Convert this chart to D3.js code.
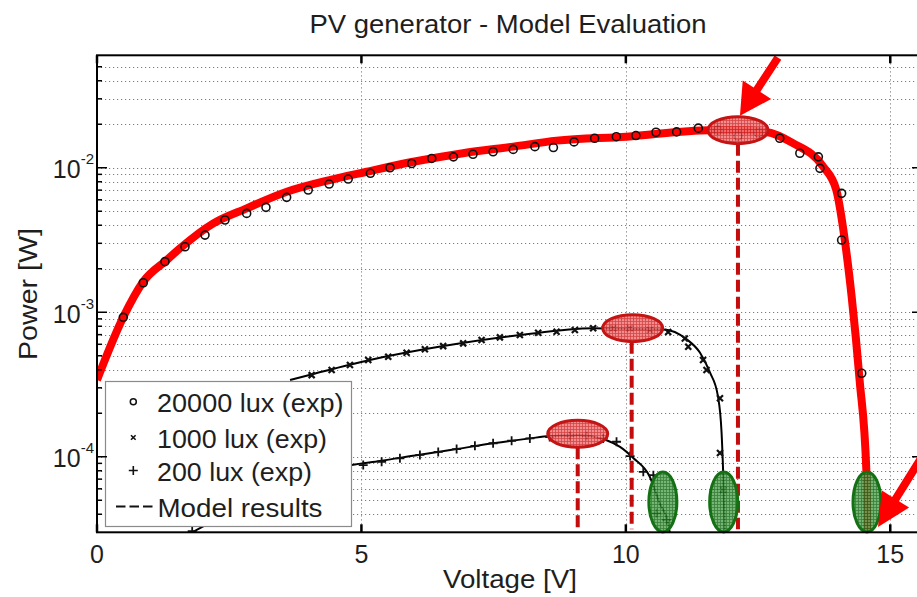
<!DOCTYPE html>
<html><head><meta charset="utf-8">
<script src="https://cdn.jsdelivr.net/npm/d3@7"></script>
<style>
body{margin:0;background:#fff}
svg{display:block}
text{font-family:"Liberation Sans",Arial,Helvetica,sans-serif;fill:#1e1e1e}
</style>
</head><body>
<svg id="c" width="917" height="597"></svg>
<script>
// ---------- DATA ----------
const xTicks = [0, 5, 10, 15];
const xGrid = [5, 10, 15];
const yMajor = [1e-4, 1e-3, 1e-2];
const yMajorExp = ["-4", "-3", "-2"];

// 20000 lux – model (red thick line)
const model20000V = [0, 0.50, 0.875, 1.32, 1.57, 2.20, 2.83, 3.59, 4.40, 5.10, 5.98, 6.92, 7.87, 8.69, 10.01, 11.59, 12.12, 12.66, 13.16, 13.73, 13.98, 14.14, 14.27, 14.42, 14.55, 14.57];
const model20000P = [3.4e-4, 9.3e-4, 1.63e-3, 2.30e-3, 2.77e-3, 4.12e-3, 5.24e-3, 6.82e-3, 8.22e-3, 9.38e-3, 1.10e-2, 1.26e-2, 1.40e-2, 1.54e-2, 1.64e-2, 1.82e-2, 1.82e-2, 1.77e-2, 1.48e-2, 1.02e-2, 7.0e-3, 3.16e-3, 1.28e-3, 3.4e-4, 7.7e-5, 2.8e-5];
// 20000 lux – experiment (circles)
const exp20000V = [0.497, 0.875, 1.285, 1.664, 2.042, 2.42, 2.83, 3.195, 3.586, 3.994, 4.39, 4.75, 5.17, 5.54, 5.95, 6.33, 6.74, 7.11, 7.49, 7.87, 8.28, 8.63, 9.02, 9.41, 9.82, 10.19, 10.57, 10.96, 11.37, 11.74, 12.12, 12.51, 12.91, 13.29, 13.64, 13.67, 14.08, 14.08, 14.46];
const exp20000P = [9.22e-4, 1.60e-3, 2.24e-3, 2.84e-3, 3.42e-3, 4.35e-3, 4.83e-3, 5.32e-3, 6.24e-3, 7.01e-3, 7.71e-3, 8.35e-3, 9.15e-3, 1.0e-2, 1.07e-2, 1.16e-2, 1.19e-2, 1.24e-2, 1.29e-2, 1.34e-2, 1.40e-2, 1.38e-2, 1.51e-2, 1.60e-2, 1.64e-2, 1.67e-2, 1.76e-2, 1.77e-2, 1.88e-2, 1.82e-2, 1.66e-2, 1.74e-2, 1.60e-2, 1.26e-2, 1.19e-2, 9.9e-3, 6.65e-3, 3.16e-3, 3.78e-4];

// 1000 lux – model (black line)
const model1000V = [3.65, 4.09, 5.16, 6.55, 8.0, 9.38, 10.39, 10.71, 11.15, 11.40, 11.59, 11.74, 11.81, 11.84, 11.87];
const model1000P = [3.40e-4, 3.74e-4, 4.67e-4, 5.83e-4, 6.95e-4, 7.74e-4, 7.62e-4, 7.6e-4, 6.5e-4, 5.26e-4, 3.83e-4, 2.64e-4, 1.47e-4, 7.8e-5, 3.0e-5];
// 1000 lux – experiment (x markers)
const exp1000V = [4.059, 4.437, 4.783, 5.129, 5.507, 5.854, 6.200, 6.546, 6.924, 7.272, 7.618, 7.996, 8.342, 8.690, 9.036, 9.382, 9.760, 10.076, 10.454, 10.80, 11.115, 11.18, 11.46, 11.525, 11.78, 11.78, 11.84];
const exp1000P = [3.67e-4, 3.98e-4, 4.31e-4, 4.67e-4, 4.92e-4, 5.25e-4, 5.54e-4, 5.83e-4, 6.09e-4, 6.42e-4, 6.70e-4, 6.95e-4, 7.21e-4, 7.33e-4, 7.53e-4, 7.74e-4, 7.74e-4, 7.74e-4, 7.53e-4, 7.3e-4, 6.59e-4, 5.77e-4, 4.67e-4, 3.98e-4, 2.54e-4, 1.06e-4, 5.9e-5];

// 200 lux – model (black line)
const model200V = [1.80, 4.815, 5.35, 6.07, 6.80, 7.49, 8.185, 8.56, 9.10, 9.635, 9.89, 10.14, 10.45, 10.64, 10.80, 10.83];
const model200P = [3.0e-5, 8.76e-5, 9.34e-5, 1.03e-4, 1.13e-4, 1.24e-4, 1.34e-4, 1.39e-4, 1.41e-4, 1.30e-4, 1.17e-4, 9.8e-5, 7.3e-5, 4.76e-5, 3.46e-5, 2.98e-5];
// 200 lux – experiment (+ markers)
const exp200V = [1.80, 5.034, 5.382, 5.728, 6.106, 6.452, 6.80, 7.146, 7.49, 7.84, 8.185, 8.56, 8.94, 9.257, 9.571, 9.824, 10.08, 10.33, 10.52, 10.58, 10.77];
const exp200P = [3.05e-5, 8.76e-5, 9.23e-5, 9.75e-5, 1.03e-4, 1.08e-4, 1.13e-4, 1.19e-4, 1.24e-4, 1.29e-4, 1.34e-4, 1.37e-4, 1.39e-4, 1.39e-4, 1.34e-4, 1.27e-4, 1.01e-4, 7.87e-5, 7.46e-5, 4.06e-5, 3.65e-5];

// Annotations: maximum power points (red) and open-circuit voltages (green)
const mppV = [9.09, 10.13, 12.12];
const mppP = [1.44e-4, 7.76e-4, 1.82e-2];
const mppLineV = [9.09, 10.11, 12.12];
const vocV = [10.70, 11.85, 14.56];
const vocP = [4.86e-5, 4.86e-5, 4.86e-5];

const legendLabels = ["20000 lux (exp)", "1000 lux (exp)", "200 lux (exp)", "Model results"];
const titleText = "PV generator - Model Evaluation";
const xLabel = "Voltage [V]";
const yLabel = "Power [W]";

// ---------- CHART ----------
const svg = d3.select("#c");
svg.append("rect").attr("width", 917).attr("height", 597).attr("fill", "#fff");

const L = 97, R = 922, T = 55.3, B = 532.3;
const x = d3.scaleLinear().domain([0, 15.6]).range([L, R]);
const y = d3.scaleLog().domain([3e-5, 6e-2]).range([B, T]);

const defs = svg.append("defs");
defs.append("clipPath").attr("id", "pc").append("rect")
  .attr("x", L).attr("y", T).attr("width", R - L).attr("height", B - T);
function hatch(id, bg, line) {
  const p = defs.append("pattern").attr("id", id).attr("patternUnits", "userSpaceOnUse")
    .attr("width", 3).attr("height", 3);
  p.append("rect").attr("width", 3).attr("height", 3).attr("fill", bg);
  p.append("path").attr("d", "M0,0.5H3M0.5,0V3").attr("stroke", line).attr("stroke-width", 0.8);
}
hatch("hr", "#f27a7a", "#cc2626");
hatch("hg", "#5aaa5a", "#1a661a");

// grid
const minorVals = y.ticks().filter(v => v > 3.01e-5 && v < 5.99e-2);
const grid = svg.append("g").attr("clip-path", "url(#pc)")
  .attr("stroke", "#7c7c7c").attr("stroke-width", 1).attr("stroke-dasharray", "1.2,2.8");
grid.selectAll("line.h").data(minorVals).join("line").attr("class", "h")
  .attr("x1", L).attr("x2", R).attr("y1", d => Math.round(y(d)) + 0.5).attr("y2", d => Math.round(y(d)) + 0.5);
grid.selectAll("line.v").data(xGrid).join("line").attr("class", "v")
  .attr("y1", T).attr("y2", B).attr("x1", d => Math.round(x(d)) + 0.5).attr("x2", d => Math.round(x(d)) + 0.5);

const plot = svg.append("g").attr("clip-path", "url(#pc)");
const zip = (a, b) => a.map((v, i) => [v, b[i]]);
const line = d3.line().x(d => x(d[0])).y(d => y(d[1])).curve(d3.curveMonotoneX);

plot.append("path").datum(zip(model200V, model200P)).attr("d", line)
  .attr("fill", "none").attr("stroke", "#000").attr("stroke-width", 2);
plot.append("path").datum(zip(model1000V, model1000P)).attr("d", line)
  .attr("fill", "none").attr("stroke", "#000").attr("stroke-width", 2);
plot.append("path").datum(zip(model20000V, model20000P)).attr("d", line)
  .attr("fill", "none").attr("stroke", "#ff0000").attr("stroke-width", 8).attr("stroke-linejoin", "round");

// markers
plot.selectAll("circle.e20").data(zip(exp20000V, exp20000P)).join("circle").attr("class", "e20")
  .attr("cx", d => x(d[0])).attr("cy", d => y(d[1])).attr("r", 4)
  .attr("fill", "none").attr("stroke", "#111").attr("stroke-width", 1.6);
const xm = (s) => `M${-s},${-s}L${s},${s}M${-s},${s}L${s},${-s}`;
const pm = (s) => `M${-s},0H${s}M0,${-s}V${s}`;
plot.selectAll("path.e10").data(zip(exp1000V, exp1000P)).join("path").attr("class", "e10")
  .attr("transform", d => `translate(${x(d[0])},${y(d[1])})`).attr("d", xm(3))
  .attr("stroke", "#111").attr("stroke-width", 2.2).attr("fill", "none");
plot.selectAll("path.e2").data(zip(exp200V, exp200P)).join("path").attr("class", "e2")
  .attr("transform", d => `translate(${x(d[0])},${y(d[1])})`).attr("d", pm(4.5))
  .attr("stroke", "#111").attr("stroke-width", 1.8).attr("fill", "none");

// dashed drop lines from MPP ellipses
const mppRy = 13.5, mppRx = 30;
svg.selectAll("line.mpp").data(mppLineV.map((v, i) => [v, mppP[i]])).join("line").attr("class", "mpp")
  .attr("x1", d => x(d[0])).attr("x2", d => x(d[0]))
  .attr("y1", d => y(d[1]) + mppRy).attr("y2", B - 3)
  .attr("stroke", "#c40c0c").attr("stroke-width", 4).attr("stroke-dasharray", "12,5");

// ellipses
svg.selectAll("ellipse.mpp").data(zip(mppV, mppP)).join("ellipse").attr("class", "mpp")
  .attr("cx", d => x(d[0])).attr("cy", d => y(d[1])).attr("rx", mppRx).attr("ry", mppRy)
  .attr("fill", "url(#hr)").attr("fill-opacity", 0.85).attr("stroke", "#c41414").attr("stroke-width", 3);
svg.selectAll("ellipse.voc").data(zip(vocV, vocP)).join("ellipse").attr("class", "voc")
  .attr("cx", d => x(d[0])).attr("cy", d => y(d[1])).attr("rx", 14).attr("ry", 30)
  .attr("fill", "url(#hg)").attr("fill-opacity", 0.85).attr("stroke", "#137013").attr("stroke-width", 3);

// arrows
function arrow(tx, ty, sx, sy, headL, headW, shaftW) {
  const dx = tx - sx, dy = ty - sy, len = Math.hypot(dx, dy);
  const ux = dx / len, uy = dy / len, nx = -uy, ny = ux;
  const bx = tx - ux * headL, by = ty - uy * headL;
  const s = shaftW / 2;
  const pts = [
    [sx + nx * s, sy + ny * s], [bx + nx * s, by + ny * s], [bx + nx * headW, by + ny * headW],
    [tx, ty], [bx - nx * headW, by - ny * headW], [bx - nx * s, by - ny * s], [sx - nx * s, sy - ny * s]
  ];
  svg.append("path").attr("d", "M" + pts.map(p => p.join(",")).join("L") + "Z").attr("fill", "#ff0000");
}
const a1x = x(mppV[2]) + 2, a1y = y(mppP[2]) - mppRy - 1;
arrow(a1x, a1y, a1x + 38, a1y - 58, 31, 17, 8);
const a2x = x(vocV[2]) + 11, a2y = y(vocP[2]) + 25;
arrow(a2x, a2y, a2x + 47, a2y - 75, 33, 16, 8);

// legend
const lg = svg.append("g");
lg.append("rect").attr("x", 105.5).attr("y", 381.5).attr("width", 246).attr("height", 145)
  .attr("fill", "#fff").attr("stroke", "#8a8a8a").attr("stroke-width", 1.2);
const rowBase = [411.5, 448, 481, 516.5];
const rowMark = [401.7, 437.5, 470.5, 506.5];
const legendWidths = [186.5, 170, 155, 165];
lg.append("circle").attr("cx", 133.3).attr("cy", rowMark[0]).attr("r", 3).attr("fill", "none").attr("stroke", "#111").attr("stroke-width", 1.5);
lg.append("path").attr("transform", `translate(133.3,${rowMark[1]})`).attr("d", xm(2.3)).attr("stroke", "#111").attr("stroke-width", 1.6);
lg.append("path").attr("transform", `translate(133.3,${rowMark[2]})`).attr("d", pm(4.5)).attr("stroke", "#111").attr("stroke-width", 1.6);
lg.append("line").attr("x1", 116).attr("x2", 156.5).attr("y1", rowMark[3]).attr("y2", rowMark[3])
  .attr("stroke", "#111").attr("stroke-width", 2).attr("stroke-dasharray", "9.5,4");
lg.selectAll("text").data(legendLabels).join("text")
  .attr("x", (d, i) => i === 3 ? 157.5 : 157).attr("y", (d, i) => rowBase[i])
  .attr("font-size", 25).attr("textLength", (d, i) => legendWidths[i]).attr("lengthAdjust", "spacingAndGlyphs")
  .text(d => d);

// axes box
const ax = svg.append("g").attr("stroke", "#000").attr("fill", "none");
ax.append("rect").attr("x", L).attr("y", T).attr("width", R - L).attr("height", B - T).attr("stroke-width", 2);
const allY = y.ticks().filter(v => v > 3.01e-5 && v < 5.99e-2);
const isMajor = v => yMajor.some(m => Math.abs(v / m - 1) < 1e-6);
ax.selectAll("line.yl").data(allY).join("line").attr("class", "yl")
  .attr("x1", L).attr("x2", d => L + (isMajor(d) ? 10 : 5)).attr("y1", d => y(d)).attr("y2", d => y(d)).attr("stroke-width", 1.5);
ax.selectAll("line.yr").data(allY).join("line").attr("class", "yr")
  .attr("x1", R).attr("x2", d => R - (isMajor(d) ? 10 : 5)).attr("y1", d => y(d)).attr("y2", d => y(d)).attr("stroke-width", 1.5);
ax.selectAll("line.xb").data(xTicks).join("line").attr("class", "xb")
  .attr("x1", d => x(d)).attr("x2", d => x(d)).attr("y1", B).attr("y2", B - 8).attr("stroke-width", 2.5);
ax.selectAll("line.xt").data(xTicks).join("line").attr("class", "xt")
  .attr("x1", d => x(d)).attr("x2", d => x(d)).attr("y1", T).attr("y2", T + 8).attr("stroke-width", 2.5);

// tick labels
svg.selectAll("text.xt").data(xTicks).join("text").attr("class", "xt")
  .attr("x", d => x(d)).attr("y", 563).attr("text-anchor", "middle").attr("font-size", 25).text(d => d);
const yl = svg.selectAll("text.yt").data(yMajor).join("text").attr("class", "yt")
  .attr("x", 94).attr("y", d => y(d) + 10.5).attr("text-anchor", "end").attr("font-size", 25);
yl.append("tspan").text("10");
yl.append("tspan").attr("dy", -14).attr("font-size", 15).text((d, i) => yMajorExp[i]);

// titles
svg.append("text").attr("x", 508).attr("y", 33).attr("text-anchor", "middle").attr("font-size", 25)
  .attr("textLength", 397).attr("lengthAdjust", "spacingAndGlyphs").text(titleText);
svg.append("text").attr("x", 510).attr("y", 588).attr("text-anchor", "middle").attr("font-size", 25)
  .attr("textLength", 134).attr("lengthAdjust", "spacingAndGlyphs").text(xLabel);
svg.append("text").attr("transform", "translate(37,294) rotate(-90)").attr("text-anchor", "middle").attr("font-size", 25)
  .attr("textLength", 132).attr("lengthAdjust", "spacingAndGlyphs").text(yLabel);
</script>
</body></html>
